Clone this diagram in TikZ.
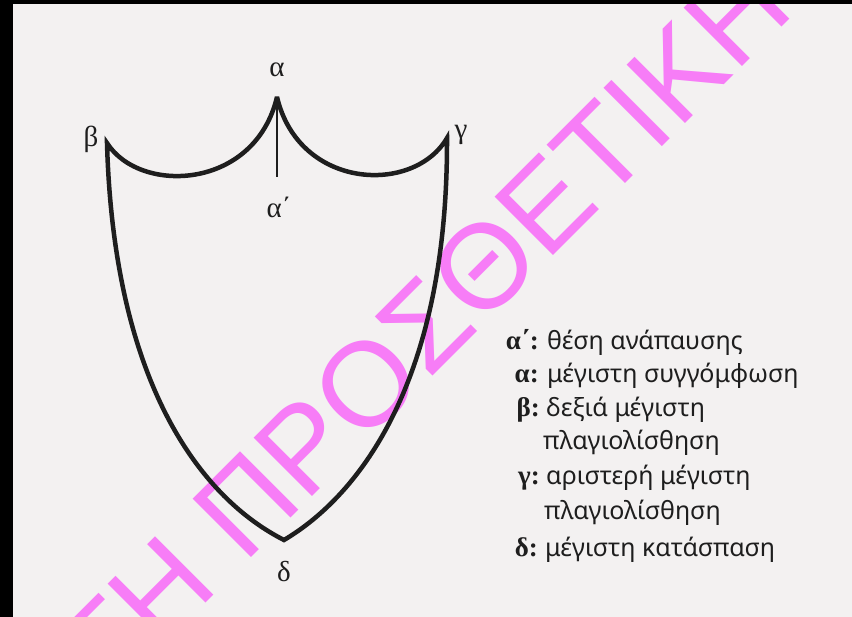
\documentclass[tikz,border=0pt]{standalone}
\usepackage{fontspec}
\setmainfont{Liberation Serif}
\newfontfamily\legfont{Noto Sans}
\newfontfamily\wmfont{Liberation Sans}
\definecolor{paper}{RGB}{243,241,241}
\definecolor{wm}{RGB}{247,125,247}
\definecolor{ink}{RGB}{30,30,30}
\begin{document}
\begin{tikzpicture}[x=1pt,y=-1pt,
  outline/.style={line width=4.5pt, draw=ink, line join=miter, miter limit=4},
  restline/.style={line width=2.5pt, draw=ink},
  ptlabel/.style={font=\fontsize{29}{29}\selectfont, inner sep=0pt, text=ink},
  legkey/.style={font=\bfseries\fontsize{27}{27}\selectfont, anchor=base east, inner sep=0pt, text=ink},
  legtext/.style={font=\legfont\fontsize{25}{25}\selectfont, anchor=base west, inner sep=0pt, text=ink},
  watermark/.style={font=\wmfont\fontsize{120}{120}\selectfont, text=wm, rotate=45, anchor=base, inner sep=0pt}]
\useasboundingbox (0,0) rectangle (852,617);
\fill[paper] (0,0) rectangle (852,617);
\begin{scope}
\clip (13,4) rectangle (852,617);
\node[watermark] (wm) at (452,357) {ΤΗ ΠΡΟΣΘΕΤΙΚΗ};
\end{scope}
\fill[black] (0,0) rectangle (13,617);
\fill[black] (0,0) rectangle (852,4);
\coordinate (A) at (277,97);
\coordinate (B) at (107,143);
\coordinate (G) at (447,138);
\coordinate (D) at (284,540);
\coordinate (Ap) at (277,177);
\draw[outline] (B) .. controls (140,195) and (255,190) .. (A)
  .. controls (299,190) and (414,195) .. (G)
  .. controls (448,380) and (360,495) .. (D)
  .. controls (205,500) and (114,390) .. cycle;
\draw[restline] (A) -- (Ap);
\node[ptlabel] (la) at (277,70) {α};
\node[ptlabel] (lb) at (91,139) {β};
\node[ptlabel] (lg) at (461,135) {γ};
\node[ptlabel] (lap) at (279,207) {α΄};
\node[ptlabel] (ld) at (284,572) {δ};
\node[legkey] (k1) at (539,350) {α΄:};
\node[legtext] (t1) at (547,350) {θέση ανάπαυσης};
\node[legkey] (k2) at (539,383) {α:};
\node[legtext] (t2) at (547,383) {μέγιστη συγγόμφωση};
\node[legkey] (k3) at (540,417) {β:};
\node[legtext] (t3) at (546,417) {δεξιά μέγιστη};
\node[legtext] (t4) at (543,450) {πλαγιολίσθηση};
\node[legkey] (k5) at (540,485) {γ:};
\node[legtext] (t5) at (546,485) {αριστερή μέγιστη};
\node[legtext] (t6) at (544,520) {πλαγιολίσθηση};
\node[legkey] (k7) at (538,556) {δ:};
\node[legtext] (t7) at (545,556) {μέγιστη κατάσπαση};
\end{tikzpicture}
\end{document}
